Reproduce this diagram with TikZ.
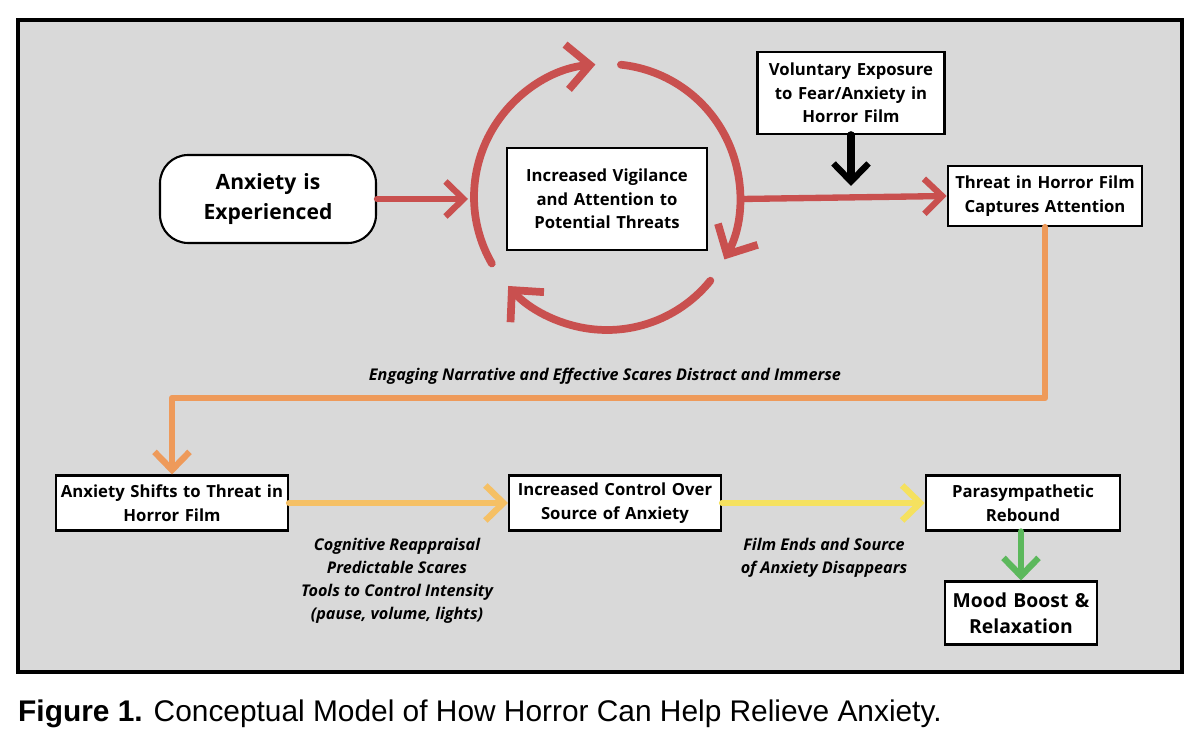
\documentclass[tikz,border=0pt]{standalone}
\usepackage{fontspec}
\setmainfont{Open Sans}
\newfontfamily\capfont{Liberation Sans}
\usetikzlibrary{arrows.meta,positioning,calc}
\definecolor{cyclered}{HTML}{C9504F}
\definecolor{narrorange}{HTML}{EE9A5A}
\definecolor{reapyellow}{HTML}{F5C065}
\definecolor{endyellow}{HTML}{F5E15F}
\definecolor{moodgreen}{HTML}{5CB85C}
\definecolor{panelgray}{HTML}{D9D9D9}
\tikzset{stepbox/.style={draw=black, line width=1.2pt, fill=white, align=center, font=\bfseries\fontsize{9.5}{13.5}\selectfont, inner sep=2pt},
flow/.style={line width=3.6pt, -{Straight Barb[length=3.6mm,width=7mm,line width=3.6pt]}, line join=round, line cap=round},
bigflow/.style={flow, line width=4.4pt, -{Straight Barb[length=4.6mm,width=9mm,line width=4.4pt]}},
note/.style={font=\bfseries\itshape\fontsize{9.2}{13}\selectfont, align=center}}
\begin{document}
\begin{tikzpicture}[x=0.02cm,y=0.02cm]
\useasboundingbox (0,0) rectangle (1200,740);
\draw[line width=2.6pt, fill=panelgray] (18,68) rectangle (1182,720);
% boxes
\node (anx) [stepbox, rounded corners=16pt, minimum width=4.32cm, text width=3.9cm, minimum height=1.76cm, font=\bfseries\fontsize{12}{17}\selectfont] at (268,541) {Anxiety is\\Experienced};
\node (vig) [stepbox, text width=3.85cm, minimum height=2.04cm] at (607,541) {Increased Vigilance\\and Attention to\\Potential Threats};
\node (vol) [stepbox, text width=3.6cm, minimum height=1.64cm] at (851,647) {Voluntary Exposure\\to Fear/Anxiety in\\Horror Film};
\node (thr) [stepbox, text width=3.75cm, minimum height=1.2cm] at (1045,544) {Threat in Horror Film\\Captures Attention};
\node (shf) [stepbox, text width=4.5cm, minimum height=1.1cm] at (172,237) {Anxiety Shifts to Threat in\\Horror Film};
\node (ctl) [stepbox, text width=4.1cm, minimum height=1.1cm] at (615,237) {Increased Control Over\\Source of Anxiety};
\node (par) [stepbox, text width=3.75cm, minimum height=1.1cm] at (1023,237) {Parasympathetic\\Rebound};
\node (mood) [stepbox, text width=2.9cm, minimum height=1.26cm, font=\bfseries\fontsize{11}{15}\selectfont] at (1021,127) {Mood Boost \&\\Relaxation};
% cycle
\coordinate (cyc) at (607,543);
\draw[bigflow, cyclered] ($(cyc)+(210:133)$) arc[start angle=210, end angle=95, radius=133];
\draw[bigflow, cyclered] ($(cyc)+(84:133)$) arc[start angle=84, end angle=-28, radius=133];
\draw[bigflow, cyclered] ($(cyc)+(-39:133)$) arc[start angle=-39, end angle=-138, radius=133];
\coordinate (cycw) at (468,541);
\coordinate (cyce) at (742,541);
\draw[flow, cyclered] (anx.east) -- (cycw);
\draw[flow, cyclered] (cyce) -- (thr.west);
\coordinate (volend) at (vol.south |- thr.center);
\draw[flow, black, line width=4.4pt] (vol.south) -- ($(volend)+(0,10)$);
% lower flow
\draw[flow, narrorange] (thr.south) |- (172,342) -- (shf.north);
\node (engage) [note] at (605,364) {Engaging Narrative and Effective Scares Distract and Immerse};
\draw[flow, reapyellow] (shf.east) -- (ctl.west);
\draw[flow, endyellow] (ctl.east) -- (par.west);
\draw[flow, moodgreen] (par.south -| mood.north) -- (mood.north);
\node (reap) [note, anchor=north] at (397,208) {Cognitive Reappraisal\\Predictable Scares\\Tools to Control Intensity\\(pause, volume, lights)};
\node (ends) [note, anchor=north] at (824,208) {Film Ends and Source\\of Anxiety Disappears};
\node (cap) [anchor=west, font=\capfont\fontsize{17}{20}\selectfont] at (12,26) {\textbf{Figure 1.} Conceptual Model of How Horror Can Help Relieve Anxiety.};
\end{tikzpicture}
\end{document}
